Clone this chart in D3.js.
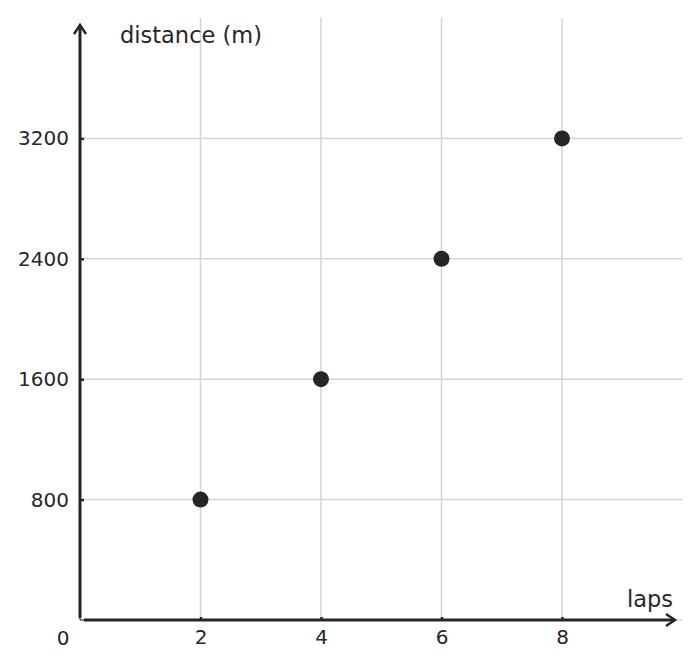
<!DOCTYPE html>
<html>
<head>
<meta charset="utf-8">
<script src="https://cdn.jsdelivr.net/npm/d3@7"></script>
<style>
  body { margin: 0; background: #fff; }
  text { font-family: "DejaVu Sans", sans-serif; fill: #222; }
</style>
</head>
<body>
<script>
//data
var laps = [2, 4, 6, 8];
var distance = [800, 1600, 2400, 3200];
var xTicks = [2, 4, 6, 8];
var yTicks = [800, 1600, 2400, 3200];

var width = 700, height = 668;
var ink = "#26262a";

var svg = d3.select("body").append("svg")
    .attr("width", width)
    .attr("height", height);

//scales
var x = d3.scaleLinear().domain([0, 10]).range([80, 682.5]);
var y = d3.scaleLinear().domain([0, 4000]).range([620, 18]);

//grid lines
svg.selectAll(".vgrid")
    .data(xTicks)
    .enter().append("line")
    .attr("x1", function(d){ return x(d); })
    .attr("x2", function(d){ return x(d); })
    .attr("y1", y(4000))
    .attr("y2", y(0))
    .style("stroke", "#d4d4d4")
    .style("stroke-width", 1.5);

svg.selectAll(".hgrid")
    .data(yTicks.concat([0]))
    .enter().append("line")
    .attr("x1", x(0))
    .attr("x2", x(10))
    .attr("y1", function(d){ return y(d); })
    .attr("y2", function(d){ return y(d); })
    .style("stroke", "#d4d4d4")
    .style("stroke-width", 1.5);

//axes using d3 axis, then restyle
var xAxis = svg.append("g")
    .attr("transform", "translate(0," + y(0) + ")")
    .call(d3.axisBottom(x).tickValues(xTicks).tickSize(-3).tickPadding(10).tickFormat(d3.format("d")));
var yAxis = svg.append("g")
    .attr("transform", "translate(" + x(0) + ",0)")
    .call(d3.axisLeft(y).tickValues(yTicks).tickSize(-4).tickPadding(11).tickFormat(d3.format("d")));

[xAxis, yAxis].forEach(function(g){
    g.attr("font-size", null).attr("font-family", null);
    g.select(".domain").remove();
    g.selectAll(".tick line").style("stroke", ink).style("stroke-width", 2.5);
    g.selectAll(".tick text")
        .style("font-family", "'DejaVu Sans', sans-serif")
        .style("font-size", "20px")
        .style("fill", ink);
});

//origin label
svg.append("text")
    .attr("x", 63)
    .attr("y", 645)
    .attr("text-anchor", "middle")
    .style("font-size", "20px")
    .style("fill", ink)
    .text("0");

//axis lines with arrows
svg.append("line")
    .attr("x1", x(0)).attr("x2", x(0))
    .attr("y1", y(0) - 2).attr("y2", 25)
    .style("stroke", ink).style("stroke-width", 3);
svg.append("path")
    .attr("d", "M" + (x(0) - 6) + "," + 34 + "L" + x(0) + "," + 25 + "L" + (x(0) + 6) + "," + 34)
    .style("fill", "none").style("stroke", ink).style("stroke-width", 2.5);

svg.append("line")
    .attr("x1", x(0) + 4).attr("x2", 675)
    .attr("y1", y(0)).attr("y2", y(0))
    .style("stroke", ink).style("stroke-width", 3);
svg.append("path")
    .attr("d", "M666," + (y(0) - 6) + "L675," + y(0) + "L666," + (y(0) + 6))
    .style("fill", "none").style("stroke", ink).style("stroke-width", 2.5);
//small corner at origin
svg.append("path")
    .attr("d", "M" + x(0) + "," + (y(0) - 2) + "L" + x(0) + "," + y(0) + "L" + (x(0) + 4) + "," + y(0))
    .style("fill", "none").style("stroke", ink).style("stroke-width", 1);

//axis titles
svg.append("text")
    .attr("x", 120)
    .attr("y", 43)
    .style("font-size", "22.5px")
    .style("fill", ink)
    .text("distance (m)");
svg.append("text")
    .attr("x", 673)
    .attr("y", 607)
    .attr("text-anchor", "end")
    .style("font-size", "22.5px")
    .style("fill", ink)
    .text("laps");

//points
svg.selectAll(".dot")
    .data(laps)
    .enter().append("circle")
    .attr("class", "dot")
    .attr("cx", function(d){ return x(d); })
    .attr("cy", function(d, i){ return y(distance[i]); })
    .attr("r", 8)
    .style("fill", ink);
</script>
</body>
</html>
